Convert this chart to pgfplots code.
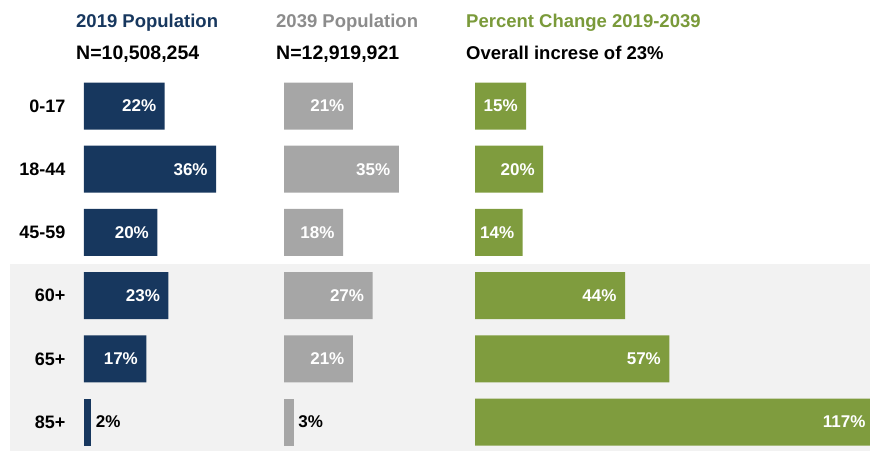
\documentclass[border=0pt]{standalone}
\usepackage{pgfplots}
\pgfplotsset{compat=1.18}
\usepackage{fontspec}
\setmainfont{Liberation Sans}
\definecolor{navy}{HTML}{17375E}
\definecolor{barGray}{HTML}{A6A6A6}
\definecolor{barGreen}{HTML}{7F9C3E}
\definecolor{band}{HTML}{F2F2F2}
\definecolor{titleGray}{HTML}{8C8C8C}
\definecolor{titleGreen}{HTML}{7A9A3A}
\newcommand{\hfont}{\fontsize{18.5}{20}\selectfont\bfseries}
\newcommand{\nfont}{\fontsize{19.5}{21}\selectfont\bfseries}
\newcommand{\rfont}{\fontsize{18}{20}\selectfont\bfseries}
\newcommand{\lfont}{\fontsize{17}{19}\selectfont\bfseries}

\pgfplotstableread{
y v
5 22
4 36
3 20
2 23
1 17
}\popA
\pgfplotstableread{
y v
0 2
}\popAs
\pgfplotstableread{
y v
5 21
4 35
3 18
2 27
1 21
}\popB
\pgfplotstableread{
y v
0 3
}\popBs
\pgfplotstableread{
y v
5 15
4 20
3 14
2 44
1 57
0 117
}\chg

\pgfplotsset{
  panel/.style={
    scale only axis, xbar, bar width=47pt,
    xmin=0, xmax=125, ymin=-0.5, ymax=5.5, y=63.2pt,
    axis line style={draw=none}, major tick length=0pt,
    xtick=\empty, ytick=\empty, clip=false,
    every axis plot/.append style={bar shift=0pt, draw=none},
    anchor=south west,
  },
  inlab/.style={
    nodes near coords={\pgfmathprintnumber[assume math mode=true]{\pgfplotspointmeta}\%},
    point meta=x,
    every node near coord/.append style={anchor=east, xshift=-5pt, text=white, font=\lfont},
  },
  outlab/.style={
    nodes near coords={\pgfmathprintnumber[assume math mode=true]{\pgfplotspointmeta}\%},
    point meta=x,
    every node near coord/.append style={anchor=west, xshift=1pt, text=black, font=\lfont},
  },
}

\begin{document}
\begin{tikzpicture}
\useasboundingbox (0pt,0pt) rectangle (870pt,-451pt);
\fill[band] (10pt,-264pt) rectangle (870pt,-451pt);

\begin{axis}[panel, x=3.67pt, at={(84pt,-453.6pt)},
  ytick={0,1,2,3,4,5}, yticklabels={85+,65+,60+,45-59,18-44,0-17},
  yticklabel style={font=\rfont, anchor=east, xshift=-15pt}]
\addplot[fill=navy, inlab] table[x=v, y=y] {\popA};
\addplot[fill=navy, outlab] table[x=v, y=y] {\popAs};
\end{axis}

\begin{axis}[panel, x=3.28pt, at={(284pt,-453.6pt)}]
\addplot[fill=barGray, inlab] table[x=v, y=y] {\popB};
\addplot[fill=barGray, outlab] table[x=v, y=y] {\popBs};
\end{axis}

\begin{axis}[panel, x=3.41pt, at={(475pt,-453.6pt)}]
\addplot[fill=barGreen, inlab] table[x=v, y=y] {\chg};
\end{axis}

\node[anchor=base west, text=navy, font=\hfont, inner sep=0pt] at (76pt,-27.7pt) {2019 Population};
\node[anchor=base west, text=black, font=\nfont, inner sep=0pt] at (76pt,-59pt) {N=10,508,254};
\node[anchor=base west, text=titleGray, font=\hfont, inner sep=0pt] at (276pt,-27.7pt) {2039 Population};
\node[anchor=base west, text=black, font=\nfont, inner sep=0pt] at (276pt,-59pt) {N=12,919,921};
\node[anchor=base west, text=titleGreen, font=\hfont, inner sep=0pt] at (466pt,-27.7pt) {Percent Change 2019-2039};
\node[anchor=base west, text=black, font=\hfont, inner sep=0pt] at (466pt,-59pt) {Overall increse of 23\%};
\end{tikzpicture}
\end{document}
